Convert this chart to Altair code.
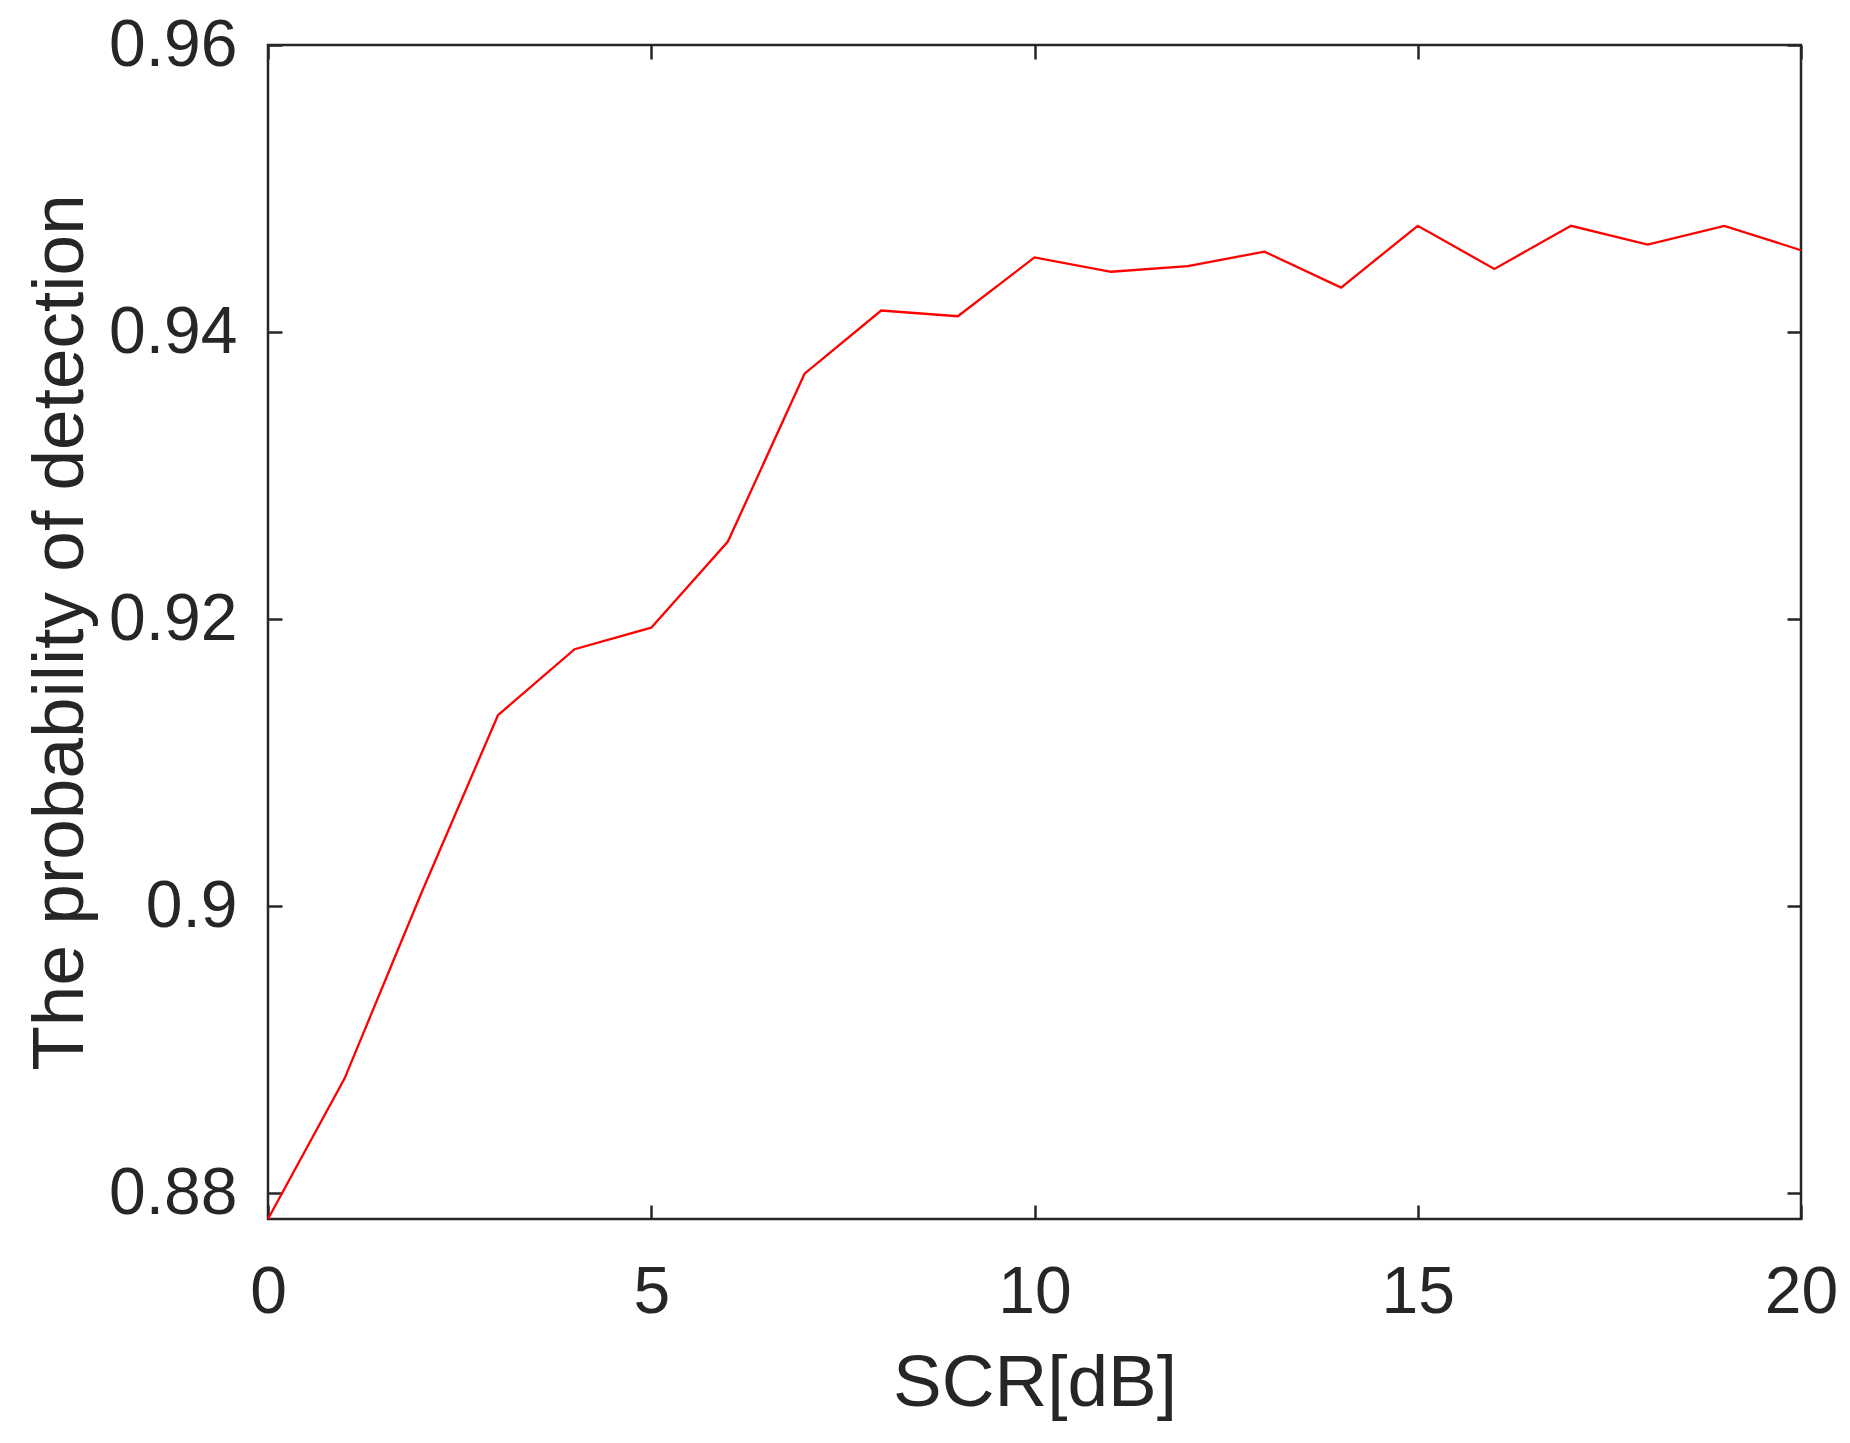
import pandas as pd
import altair as alt

# SCR in dB and the probability of detection
scr_db = list(range(21))
p_detect = [0.8782, 0.8880, 0.9009, 0.9133, 0.9179, 0.9194, 0.9254, 0.9371,
            0.9415, 0.9411, 0.9452, 0.9442, 0.9446, 0.9456, 0.9431, 0.9474,
            0.9444, 0.9474, 0.9461, 0.9474, 0.9457]

x_ticks = [0, 5, 10, 15, 20]
y_ticks = [0.88, 0.90, 0.92, 0.94, 0.96]

df = pd.DataFrame({"scr": scr_db, "pd": p_detect})

ink = "#262626"
W, H = 1533, 1174
TICK = 14

x_scale = alt.Scale(domain=[0, 20], nice=False, zero=False)
y_scale = alt.Scale(domain=[p_detect[0], 0.96], nice=False, zero=False)

# main curve with bottom / left axes (ticks pointing inward via negative offset)
line = alt.Chart(df).mark_line(color="#ff0000", strokeWidth=2.3).encode(
    x=alt.X("scr:Q", scale=x_scale, title="SCR[dB]",
            axis=alt.Axis(orient="bottom", values=x_ticks, format="~g",
                          domain=False, grid=False, offset=-TICK,
                          tickSize=TICK, labelPadding=41, labelFlush=False,
                          titleX=W / 2, titleY=186 + TICK,
                          titleBaseline="alphabetic", titleAlign="center")),
    y=alt.Y("pd:Q", scale=y_scale, title="The probability of detection",
            axis=alt.Axis(orient="left", values=y_ticks, format="~g",
                          domain=False, grid=False, offset=-TICK,
                          tickSize=TICK, labelPadding=31, labelFlush=False,
                          titleX=-186 - TICK, titleY=H / 2, titleAngle=270,
                          titleBaseline="alphabetic", titleAlign="center")),
)

# invisible copy that only carries the top / right tick marks
box_ticks = alt.Chart(df).mark_line(strokeOpacity=0).encode(
    x=alt.X("scr:Q", scale=x_scale, title="",
            axis=alt.Axis(orient="top", values=x_ticks, labels=False,
                          domain=False, grid=False, offset=-TICK,
                          tickSize=TICK)),
    y=alt.Y("pd:Q", scale=y_scale, title="",
            axis=alt.Axis(orient="right", values=y_ticks, labels=False,
                          domain=False, grid=False, offset=-TICK,
                          tickSize=TICK)),
)

chart = alt.layer(line, box_ticks).resolve_scale(
    x="independent", y="independent"
).properties(
    width=W, height=H,
    autosize=alt.AutoSizeParams(type="none"),
    padding={"left": 260, "top": 37, "right": 41, "bottom": 216},
    background="white",
).configure_view(
    stroke=ink, strokeWidth=2.5
).configure_axis(
    labelFont="Liberation Sans", labelFontSize=66, labelColor=ink,
    titleFont="Liberation Sans", titleFontSize=73, titleColor=ink,
    titleFontWeight="normal",
    tickColor=ink, tickWidth=2.5,
)

chart.save("out.html", embed_options={"renderer": "svg", "actions": False})
